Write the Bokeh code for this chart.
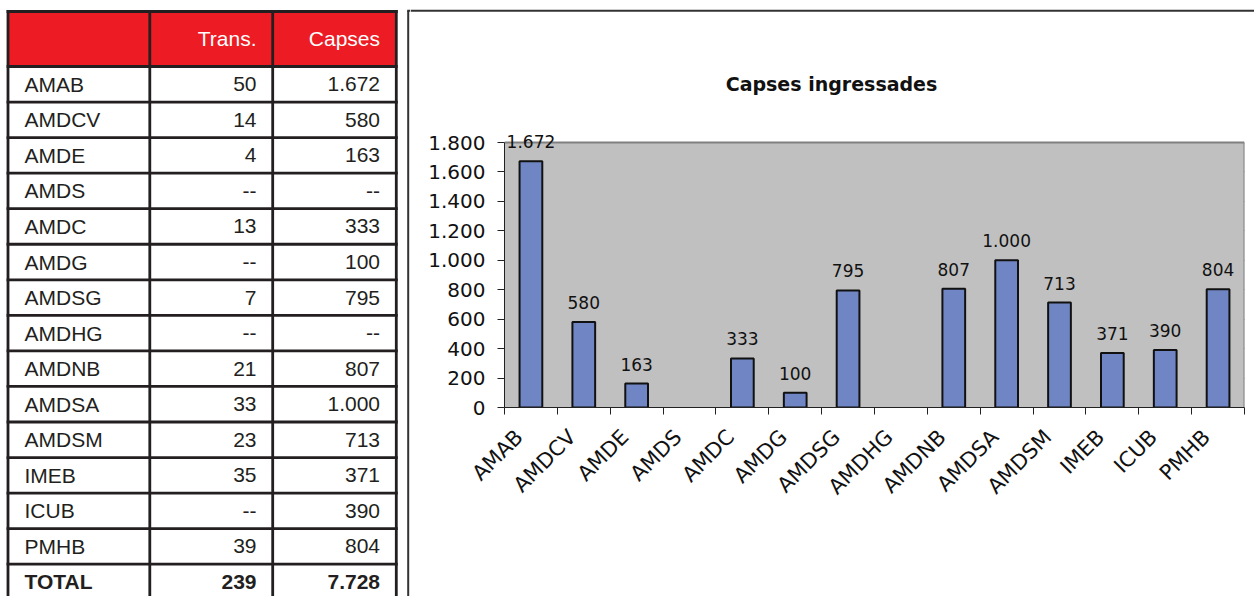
import math
from bokeh.plotting import figure
from bokeh.layouts import row, column
from bokeh.models import (Range1d, FixedTicker, LinearAxis, LabelSet, ColumnDataSource, Grid)
from bokeh.core.properties import value
from bokeh.embed import file_html
from bokeh.resources import INLINE

# ---------------- data ----------------
names = ["AMAB", "AMDCV", "AMDE", "AMDS", "AMDC", "AMDG", "AMDSG", "AMDHG",
         "AMDNB", "AMDSA", "AMDSM", "IMEB", "ICUB", "PMHB"]
trans = [50, 14, 4, None, 13, None, 7, None, 21, 33, 23, 35, None, 39]
capses = [1672, 580, 163, None, 333, 100, 795, None, 807, 1000, 713, 371, 390, 804]
total_label = "TOTAL"
total_trans = 239
total_capses = 7728
header = ["", "Trans.", "Capses"]
chart_title = "Capses ingressades"
y_ticks = [0, 200, 400, 600, 800, 1000, 1200, 1400, 1600, 1800]


def fmt(v):
    if v is None:
        return "--"
    return f"{v:,}".replace(",", ".")


INK = "#231F20"
RED = "#ED1C24"
BOX = "#333333"

PAGE_W, PAGE_H = 1254, 596

# ---------------- table ----------------
TW, TH = 410, PAGE_H
t = figure(width=TW, height=TH, x_range=Range1d(0, TW), y_range=Range1d(TH, 0),
           x_axis_location=None, y_axis_location=None, toolbar_location=None,
           output_backend="svg", min_border=0)
t.frame_align = False
t.grid.visible = False
t.outline_line_color = None
t.background_fill_color = "white"
t.border_fill_color = "white"

col_x = [7.5, 149.3, 272.2, 395.8]
top_y = 11.0
head_b = 66.0
row_h = 35.55
rows_n = len(names) + 1
row_lines = [head_b + row_h * i for i in range(rows_n + 1)]

t.quad(left=[col_x[0]], right=[col_x[3]], top=[top_y], bottom=[head_b],
       fill_color=RED, line_color=None)

hx0 = [col_x[0] - 1.4] * (len(row_lines) + 1)
hx1 = [col_x[3] + 1.4] * (len(row_lines) + 1)
hy = [top_y] + row_lines
t.segment(x0=hx0, y0=hy, x1=hx1, y1=hy, line_color=INK, line_width=2.8)
t.segment(x0=col_x, y0=[top_y - 1.4] * 4, x1=col_x, y1=[TH + 5] * 4,
          line_color=INK, line_width=2.8)

# left / top border of the chart box
t.segment(x0=[407.7], y0=[10.3], x1=[407.7], y1=[TH + 5], line_color=BOX, line_width=2)
t.segment(x0=[406.7], y0=[10.3], x1=[TW + 2], y1=[10.3], line_color=BOX, line_width=2)

txt = dict(text_font=value("Liberation Sans"), text_font_size="21px", text_baseline="middle")
head_y = (top_y + head_b) / 2 - 1
x_t, x_c = 256, 379.5
t.text(x=[x_t, x_c], y=[head_y, head_y], text=header[1:], text_color="white",
       text_align="right", **txt)

cy = [head_b + row_h * (i + 0.5) for i in range(len(names))]
t.text(x=[24] * len(names), y=cy, text=names, text_color=INK, text_align="left", **txt)
t.text(x=[x_t] * len(names), y=cy, text=[fmt(v) for v in trans], text_color=INK,
       text_align="right", **txt)
t.text(x=[x_c] * len(names), y=cy, text=[fmt(v) for v in capses], text_color=INK,
       text_align="right", **txt)
ty = head_b + row_h * (len(names) + 0.5)
t.text(x=[24], y=[ty], text=[total_label], text_color=INK, text_align="left",
       text_font_style="bold", **txt)
t.text(x=[x_t, x_c], y=[ty, ty], text=[fmt(total_trans), fmt(total_capses)],
       text_color=INK, text_align="right", text_font_style="bold", **txt)

# ---------------- chart header (title + top border) ----------------
CW = PAGE_W - TW
HH = 100
h = figure(width=CW, height=HH, x_range=Range1d(0, CW), y_range=Range1d(HH, 0),
           x_axis_location=None, y_axis_location=None, toolbar_location=None,
           output_backend="svg", min_border=0)
h.frame_align = False
h.grid.visible = False
h.outline_line_color = None
h.segment(x0=[0], y0=[10.3], x1=[CW + 2], y1=[10.3], line_color=BOX, line_width=2)
h.text(x=[831 - TW], y=[83], text=[chart_title], text_font=value("DejaVu Sans"),
       text_font_style="bold", text_font_size="19px", text_align="center",
       text_baseline="middle", text_color="#111111")

# ---------------- chart ----------------
CH = PAGE_H - HH
n = len(names)
ymax = y_ticks[-1]
frame_top, frame_bot = 122, 407          # page pixels
plot_top = 142                           # where 1.800 sits
y_end = ymax * (frame_bot - frame_top) / (frame_bot - plot_top)
c = figure(width=CW, height=CH, x_range=Range1d(0, n), y_range=Range1d(0, y_end),
           x_axis_location=None, y_axis_location=None, toolbar_location=None,
           output_backend="svg", min_border_left=504 - TW, min_border_right=PAGE_W - 1244,
           min_border_top=frame_top - HH, min_border_bottom=PAGE_H - frame_bot)
c.frame_align = False
c.grid.visible = False
c.background_fill_color = "white"
c.border_fill_color = "white"
c.outline_line_color = None

# plot area
c.quad(left=[0], right=[n], bottom=[0], top=[ymax], fill_color="#C0C0C0", line_color=None)

c.add_layout(Grid(dimension=1, ticker=FixedTicker(ticks=y_ticks[1:-1]),
                  grid_line_color="#3a3a3a", grid_line_width=1))
c.segment(x0=[0, n], y0=[ymax, 0], x1=[n, n], y1=[ymax, ymax], line_color="#808080",
          line_width=2)

yaxis = LinearAxis(ticker=FixedTicker(ticks=y_ticks), bounds=(0, ymax),
                   major_label_overrides={v: fmt(v) for v in y_ticks},
                   major_tick_out=7, major_tick_in=0, minor_tick_out=0, minor_tick_in=0,
                   major_label_standoff=12, axis_line_color="#222222",
                   major_tick_line_color="#222222",
                   major_label_text_font="DejaVu Sans",
                   major_label_text_font_size="20px", major_label_text_color="#111111")
c.add_layout(yaxis, "left")

# category boundary ticks
bounds = list(range(n + 1))
bax = LinearAxis(ticker=FixedTicker(ticks=bounds),
                 major_label_overrides={i: "" for i in bounds},
                 major_tick_out=7, major_tick_in=0, minor_tick_out=0, minor_tick_in=0,
                 axis_line_color="#222222", major_tick_line_color="#222222",
                 major_label_text_font_size="1px", major_label_standoff=0)
c.add_layout(bax, "below")

# category labels, ending just left of each category centre
label_shift = -0.22
label_pos = [i + 0.5 + label_shift for i in range(n)]
lax = LinearAxis(ticker=FixedTicker(ticks=label_pos),
                 major_label_overrides={x: nm for x, nm in zip(label_pos, names)},
                 major_tick_out=0, major_tick_in=0, minor_tick_out=0, minor_tick_in=0,
                 axis_line_color=None, major_tick_line_color=None,
                 major_label_orientation=math.pi / 4, major_label_standoff=19,
                 major_label_text_font="DejaVu Sans",
                 major_label_text_font_size="21px", major_label_text_color="#111111")
c.add_layout(lax, "below")

bx = [i + 0.5 for i, v in enumerate(capses) if v is not None]
bv = [v for v in capses if v is not None]
src = ColumnDataSource(dict(x=bx, top=bv, label=[fmt(v) for v in bv]))
c.vbar(x="x", top="top", width=0.43, source=src, fill_color="#7086C4",
       line_color="#111111", line_width=2)
c.add_layout(LabelSet(x="x", y="top", text="label", source=src, text_align="center",
                      text_baseline="alphabetic", y_offset=13,
                      text_font=value("DejaVu Sans"), text_font_size="17px",
                      text_color="#111111"))

layout = row(t, column(h, c))
open("out.html", "w").write(file_html(layout, INLINE))
